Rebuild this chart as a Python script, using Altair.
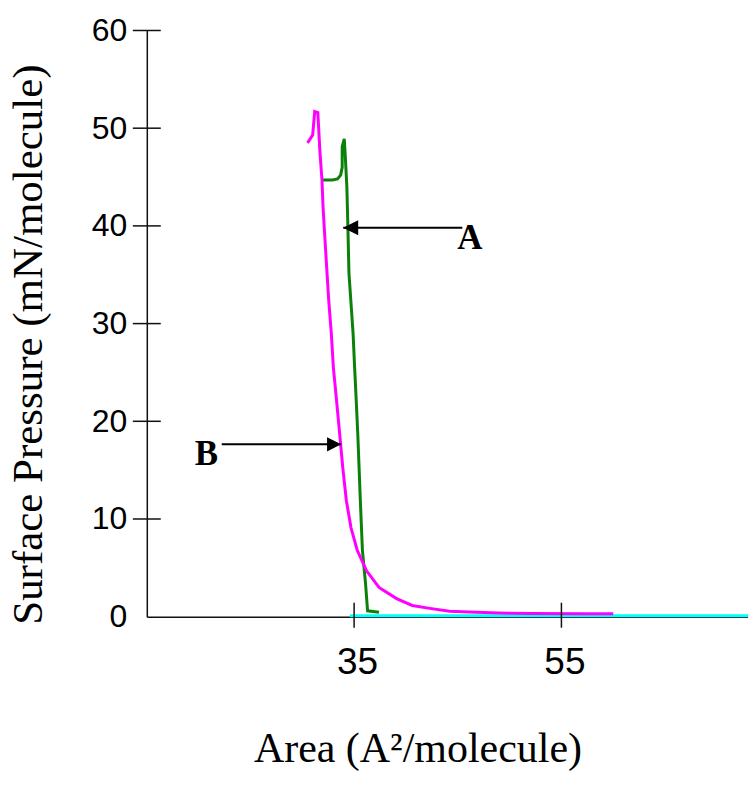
import altair as alt
import pandas as pd

# Curve B (magenta)
mag_x = [30.5, 30.7, 31.0, 31.2, 31.5, 31.7, 31.9, 32.0, 32.15, 32.35, 32.55, 32.8, 33.0, 33.3,
         33.6, 33.9, 34.25, 34.7, 35.3, 36.2, 37.4, 39.1, 40.6, 42.3, 44.2, 46.8, 49.0, 52.2, 57.0, 60.0]
mag_y = [48.5, 48.8, 49.3, 51.7, 51.6, 47.6, 44.7, 42.0, 39.3, 35.8, 32.4, 29.0, 25.5, 22.2,
         18.8, 15.3, 11.9, 9.1, 6.8, 4.7, 3.0, 1.85, 1.15, 0.85, 0.55, 0.45, 0.38, 0.32, 0.3, 0.3]

# Curve A (green)
grn_x = [31.95, 32.9, 33.4, 33.7, 33.85, 33.85, 34.05, 34.15, 34.3, 34.4, 34.5, 34.9, 35.05,
         35.2, 35.35, 35.5, 35.6, 35.8, 36.1, 36.3, 37.4]
grn_y = [44.7, 44.7, 44.8, 45.2, 46.0, 48.1, 48.9, 47.1, 44.0, 39.9, 35.2, 29.0, 25.5,
         22.2, 18.8, 14.7, 11.9, 6.8, 3.4, 0.6, 0.45]

# Baseline (cyan)
cyn_x = [34.6, 73.0]
cyn_y = [0.1, 0.1]

# Tick values
y_ticks = [0, 10, 20, 30, 40, 50, 60]
y_tick_marks = [10, 20, 30, 40, 50, 60]
x_ticks = [35, 55]

# Annotations
labels = ["A", "B"]
label_x = [44.96, 19.62]
label_y = [37.64, 15.49]
arrowA_tip_x = [33.95]
arrowA_tail_x = [45.44]
arrowA_y = [39.8]
arrowB_tip_x = [33.75]
arrowB_tail_x = [22.23]
arrowB_y = [17.64]

W, H = 602, 587

xscale = alt.Scale(domain=[15, 73], nice=False, zero=False)
yscale = alt.Scale(domain=[0, 60], nice=False)

xaxis = alt.Axis(values=x_ticks, ticks=False, grid=False, domain=True, domainColor="#111",
                 domainWidth=1.5, labelFont="Liberation Sans", labelFontSize=37,
                 labelColor="black", labelPadding=28, labelOffset=3,
                 title="Area (A²/molecule)", titleFont="Liberation Serif", titleFontSize=42,
                 titleFontWeight="normal", titleColor="black", titleX=271, titleY=145,
                 titleAlign="center", titleBaseline="alphabetic")
yaxis = alt.Axis(values=y_ticks, ticks=False, grid=False, domain=True, domainColor="#111",
                 domainWidth=1.5, labelFont="Liberation Sans", labelFontSize=32,
                 labelColor="black", labelPadding=20,
                 title="Surface Pressure (mN/molecule)", titleFont="Liberation Serif",
                 titleFontSize=43, titleFontWeight="normal", titleColor="black",
                 titleX=-105, titleY=314, titleAngle=270, titleAlign="center",
                 titleBaseline="alphabetic")

X = lambda f: alt.X(f, type="quantitative", scale=xscale, axis=xaxis)
Y = lambda f: alt.Y(f, type="quantitative", scale=yscale, axis=yaxis)

df_m = pd.DataFrame({"x": mag_x, "y": mag_y})
df_g = pd.DataFrame({"x": grn_x, "y": grn_y})
df_c = pd.DataFrame({"x": cyn_x, "y": cyn_y})
df_yt = pd.DataFrame({"v": y_tick_marks})
df_xt = pd.DataFrame({"v": x_ticks})
df_lab = pd.DataFrame({"t": labels, "x": label_x, "y": label_y})
df_a = pd.DataFrame({"x": arrowA_tip_x, "x2": arrowA_tail_x, "y": arrowA_y})
df_b = pd.DataFrame({"x": arrowB_tip_x, "x2": arrowB_tail_x, "y": arrowB_y})

cyan = alt.Chart(df_c).mark_line(color="#00ffff", strokeWidth=3).encode(x=X("x"), y=Y("y"))
green = alt.Chart(df_g).mark_line(color="#0a820a", strokeWidth=3).encode(x=X("x"), y=Y("y"), order="x:Q")
magenta = alt.Chart(df_m).mark_line(color="#ff00ff", strokeWidth=3).encode(x=X("x"), y=Y("y"))

ytick = alt.Chart(df_yt).mark_rule(color="#111", strokeWidth=1.5).encode(
    y=Y("v"), x=alt.value(-14), x2=alt.value(14))
xtick = alt.Chart(df_xt).mark_rule(color="#111", strokeWidth=1.5).encode(
    x=X("v"), y=alt.value(H - 14), y2=alt.value(H + 11))

arrow_a = alt.Chart(df_a).mark_rule(color="black", strokeWidth=2).encode(
    x=X("x"), x2="x2", y=Y("y"))
head_a = alt.Chart(df_a).mark_point(
    shape="M 0 0 L 2 -1 L 2 1 Z", size=225, filled=True, color="black", opacity=1
).encode(x=X("x"), y=Y("y"))
arrow_b = alt.Chart(df_b).mark_rule(color="black", strokeWidth=2).encode(
    x=X("x"), x2="x2", y=Y("y"))
head_b = alt.Chart(df_b).mark_point(
    shape="M 0 0 L -2 -1 L -2 1 Z", size=200, filled=True, color="black", opacity=1
).encode(x=X("x"), y=Y("y"))
texts = alt.Chart(df_lab).mark_text(
    font="Liberation Serif", fontSize=35, fontWeight="bold", color="black",
    align="left", baseline="alphabetic"
).encode(x=X("x"), y=Y("y"), text="t:N")

chart = alt.layer(cyan, green, magenta, ytick, xtick, arrow_a, head_a, arrow_b, head_b, texts).properties(
    width=W, height=H,
    padding={"left": 147, "top": 30, "right": 0, "bottom": 170},
    autosize=alt.AutoSizeParams(type="none"),
    background="white",
).configure_view(stroke=None)

chart.save("out.html", embed_options={"renderer": "svg", "actions": False})
